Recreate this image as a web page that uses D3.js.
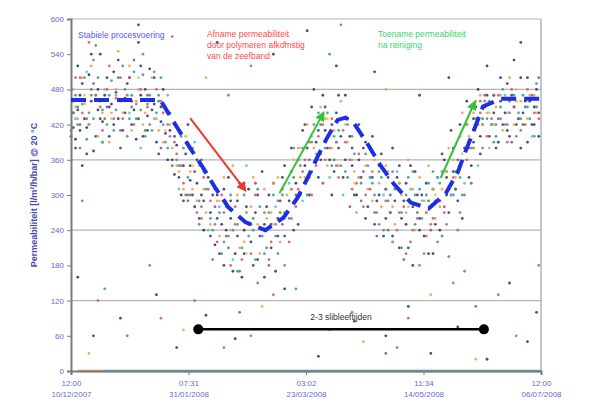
<!DOCTYPE html>
<html>
<head>
<meta charset="utf-8">
<script src="https://cdn.jsdelivr.net/npm/d3@7"></script>
<style>
  body { margin: 0; background: #fff; }
  svg { font-family: "Liberation Sans", Arial, sans-serif; }
</style>
</head>
<body>
<svg id="chart" width="590" height="407"></svg>
<script>
// x values are days since 10/12/2007 12:00, y values are permeability
const tickDays = [0, 52.25, 104.5, 156.75, 209];
const tickTimes = ["12:00", "07:31", "03:02", "11:34", "12:00"];
const tickDates = ["10/12/2007", "31/01/2008", "23/03/2008", "14/05/2008", "06/07/2008"];
const yTicks = [0, 60, 120, 180, 240, 300, 360, 420, 480, 540, 600];
const yGrid = [120, 240, 360, 480, 600];

const navy = [[1,440],[2,395],[3,520],[4,470],[5,350],[6,430],[7,415],[8,505],[9,460],[10,375],[12,445],[13,540],[14,425],[15,470],[17,400],[18,455],[19,510],[21,430],[22,380],[24,465],[25,490],[27,420],[28,445],[30,560],[31,470],[32,400],[34,435],[35,515],[37,455],[38,390],[40,425],[41,480],[43,360],[44,410],[46,335],[47,385],[49,300],[50,350],[52,420],[53,325],[55,280],[56,360],[58,300],[59,240],[61,330],[62,270],[64,215],[65,300],[67,250],[68,180],[70,330],[71,260],[73,200],[74,290],[76,160],[77,240],[79,310],[80,220],[82,270],[83,190],[85,340],[86,250],[88,300],[89,210],[91,170],[92,260],[94,330],[95,230],[97,290],[98,380],[100,320],[101,250],[103,410],[104,350],[106,300],[107,450],[109,390],[110,330],[112,470],[113,410],[115,360],[116,300],[118,440],[119,380],[121,330],[122,470],[124,400],[125,350],[127,300],[128,420],[130,380],[131,260],[133,330],[134,400],[136,290],[137,350],[139,230],[140,310],[142,270],[143,380],[145,330],[146,210],[148,290],[149,250],[151,350],[152,180],[154,300],[155,260],[157,230],[158,320],[160,280],[161,200],[163,330],[164,240],[166,360],[167,300],[169,410],[170,340],[172,290],[173,420],[175,380],[176,460],[178,350],[179,430],[181,480],[182,400],[184,450],[185,520],[187,420],[188,470],[190,390],[191,500],[193,440],[194,410],[196,470],[197,530],[199,430],[200,380],[202,460],[203,500],[205,420],[206,450],[208,400],
  [3,160],[10,60],[22,90],[38,130],[47,40],[60,95],[73,55],[95,140],[110,25],[126,85],[140,60],[150,110],[160,30],[172,75],[185,20],[195,150],[203,50],[207,100],[30,590],[65,560],[90,540],[105,580],[118,520],[135,510],[155,470],[168,500],[200,560]];

const navy2 = [[0,400],[1,415],[2,380],[3,445],[4,410],[5,490],[6,460],[7,370],[8,420],[9,540],[11,400],[12,480],[13,430],[14,390],[16,500],[17,450],[19,420],[20,475],[21,530],[23,410],[24,440],[26,500],[27,460],[29,395],[30,430],[31,520],[33,480],[34,410],[36,445],[37,500],[39,370],[40,450],[42,405],[43,440],[45,360],[46,400],[48,330],[50,290],[51,370],[53,350],[54,300],[56,320],[57,260],[59,290],[60,340],[62,230],[63,300],[65,260],[66,200],[68,310],[69,240],[71,290],[72,170],[74,230],[75,320],[77,200],[78,280],[80,250],[81,180],[83,300],[84,230],[86,160],[87,280],[89,250],[90,320],[92,230],[93,290],[95,350],[96,270],[98,310],[99,240],[101,360],[102,300],[104,420],[105,380],[107,340],[108,480],[110,410],[111,360],[113,450],[114,380],[116,420],[117,340],[119,470],[120,400],[122,360],[123,430],[125,380],[126,300],[128,360],[129,330],[131,390],[132,280],[134,330],[135,250],[137,300],[138,370],[140,260],[141,330],[143,230],[144,290],[146,350],[147,260],[149,320],[150,210],[152,280],[153,340],[155,240],[156,300],[158,270],[159,200],[161,310],[162,250],[164,290],[165,370],[167,330],[168,270],[170,380],[171,310],[173,350],[174,260],[176,420],[177,330],[179,390],[180,450],[182,370],[183,420],[185,470],[186,400],[188,440],[189,380],[191,460],[192,420],[194,490],[195,400],[197,450],[198,420],[200,500],[201,440],[203,390],[204,460],[206,420],[207,480],[208,440]];

const teal = [[0,410],[2,470],[4,380],[6,500],[8,440],[11,555],[13,460],[16,420],[18,495],[20,445],[23,520],[25,400],[27,470],[29,430],[32,505],[34,455],[36,410],[39,470],[42,390],[44,440],[47,360],[49,400],[52,330],[54,380],[57,290],[59,340],[62,260],[64,310],[67,200],[69,280],[72,240],[74,170],[77,300],[79,230],[82,190],[84,280],[87,240],[90,300],[92,200],[95,270],[98,340],[100,290],[103,380],[106,330],[108,420],[111,370],[114,440],[117,400],[120,350],[123,420],[126,370],[129,320],[132,350],[135,300],[138,330],[141,290],[144,310],[147,270],[150,330],[153,300],[156,260],[159,320],[162,290],[165,340],[168,310],[171,340],[174,300],[177,390],[180,430],[183,380],[186,460],[189,420],[192,480],[195,440],[198,400],[201,470],[204,430],[207,490],
  [5,290],[15,140],[35,180],[55,120],[80,60],[100,140],[125,100],[145,40],[175,170],[190,130],[70,470],[115,540]];

const teal2 = [[1,440],[3,420],[5,455],[7,395],[9,470],[10,430],[12,500],[14,445],[17,470],[19,410],[22,460],[24,480],[26,430],[28,510],[31,445],[33,400],[35,470],[38,440],[40,500],[41,420],[43,380],[46,400],[48,350],[50,380],[53,300],[55,340],[58,280],[60,310],[63,240],[66,270],[68,220],[71,300],[73,250],[76,210],[78,270],[81,240],[83,310],[86,200],[88,270],[91,230],[94,300],[97,260],[99,380],[102,350],[105,300],[107,390],[110,440],[113,380],[116,350],[119,410],[122,340],[125,400],[128,330],[131,370],[134,320],[137,340],[140,310],[143,340],[146,320],[149,300],[152,340],[155,310],[158,300],[161,340],[164,320],[167,340],[170,300],[173,330],[176,420],[179,380],[182,460],[185,430],[188,390],[191,450],[194,420],[197,470],[200,430],[203,450],[206,400]];

const orange = [[1,480],[3,430],[6,455],[9,520],[12,400],[15,480],[18,440],[21,545],[24,460],[27,410],[30,480],[33,440],[36,500],[39,410],[42,450],[45,380],[48,340],[51,400],[54,310],[57,350],[60,270],[63,320],[66,230],[69,290],[72,350],[75,210],[78,270],[81,330],[84,200],[87,260],[90,320],[93,220],[96,300],[99,360],[102,330],[105,420],[108,380],[111,450],[114,350],[117,410],[120,460],[123,390],[126,340],[129,400],[132,310],[135,360],[138,280],[141,340],[144,250],[147,300],[150,360],[153,240],[156,290],[159,350],[162,260],[165,310],[168,380],[171,330],[174,440],[177,400],[180,460],[183,420],[186,380],[189,450],[192,410],[195,500],[198,460],[201,420],[204,470],[207,440],
  [8,30],[50,70],[85,110],[130,50],[160,130],[180,20],[60,500],[95,560],[140,480]];

const orange2 = [[2,450],[5,500],[8,420],[11,470],[14,440],[17,390],[20,480],[23,440],[26,520],[29,460],[32,420],[35,460],[38,430],[41,390],[44,420],[47,350],[50,310],[53,340],[56,290],[59,310],[62,250],[65,290],[68,330],[71,240],[74,300],[77,220],[80,280],[83,250],[86,310],[89,270],[92,330],[95,260],[98,310],[101,380],[104,330],[107,400],[110,360],[113,430],[116,380],[119,350],[122,420],[125,360],[128,330],[131,350],[134,290],[137,320],[140,350],[143,280],[146,320],[149,270],[152,310],[155,330],[158,270],[161,310],[164,280],[167,340],[170,360],[173,400],[176,420],[179,440],[182,470],[185,440],[188,420],[191,470],[194,440],[197,420],[200,460],[203,430],[206,470]];

const pink = [[2,500],[5,440],[8,560],[11,470],[14,410],[17,520],[20,465],[23,430],[26,500],[29,455],[32,540],[35,420],[38,480],[41,440],[44,400],[47,370],[50,320],[53,380],[56,270],[59,330],[62,290],[65,220],[68,270],[71,180],[74,250],[77,320],[80,200],[83,150],[86,270],[89,220],[92,290],[95,180],[98,260],[101,310],[104,360],[107,300],[110,400],[113,360],[116,430],[119,330],[122,390],[125,310],[128,370],[131,300],[134,340],[137,250],[140,290],[143,220],[146,270],[149,200],[152,240],[155,180],[158,230],[161,260],[164,290],[167,250],[170,330],[173,270],[176,360],[179,410],[182,440],[185,400],[188,470],[191,430],[194,390],[197,450],[200,410],[203,480],[206,440],
  [12,120],[40,90],[68,40],[90,130],[115,70],[150,90],[170,150],[198,60],[208,180],[45,570],[80,520],[120,590]];

const pink2 = [[1,460],[4,500],[7,430],[10,530],[13,450],[16,480],[19,430],[22,500],[25,470],[28,420],[31,480],[34,450],[37,510],[40,460],[43,420],[46,390],[49,350],[52,300],[55,340],[58,260],[61,310],[64,250],[67,300],[70,230],[73,280],[76,190],[79,250],[82,300],[85,230],[88,190],[91,250],[94,310],[97,220],[100,280],[103,340],[106,390],[109,350],[112,420],[115,380],[118,350],[121,410],[124,360],[127,320],[130,280],[133,310],[136,270],[139,240],[142,270],[145,240],[148,280],[151,220],[154,260],[157,200],[160,250],[163,220],[166,270],[169,300],[172,240],[175,300],[178,380],[181,420],[184,460],[187,430],[190,470],[193,420],[196,480],[199,440],[202,420],[205,470],[208,430]];

const green = [[3,450],[9,480],[15,430],[21,500],[27,450],[33,410],[39,460],[45,350],[51,300],[57,250],[63,190],[69,230],[75,170],[81,260],[87,210],[93,270],[99,330],[105,380],[111,420],[117,360],[123,330],[129,290],[135,270],[141,240],[147,210],[153,250],[159,290],[165,230],[168,195],[171,310],[177,380],[183,430],[189,400],[195,460],[201,420],[207,450]];

const purple = [[4,420],[10,490],[16,450],[22,410],[28,530],[34,470],[40,380],[46,420],[52,290],[58,360],[64,280],[70,210],[76,260],[82,320],[88,180],[94,250],[100,300],[106,360],[112,320],[118,390],[124,280],[130,340],[136,230],[142,300],[148,190],[154,270],[160,240],[166,280],[172,360],[178,320],[184,470],[190,430],[196,390],[202,450],[208,500],
  [25,60],[75,100],[140,30],[180,110]];

const cyan = [[2,430],[7,510],[14,390],[20,470],[26,440],[31,380],[37,430],[43,470],[48,310],[55,390],[61,240],[66,280],[72,190],[78,350],[85,230],[91,280],[97,320],[103,290],[109,370],[115,330],[121,300],[127,270],[133,330],[139,300],[145,340],[151,310],[157,290],[163,330],[169,300],[175,320],[181,350],[187,420],[193,470],[199,440],[205,400]];

const yellow = [[6,470],[18,430],[30,500],[42,410],[54,350],[66,290],[78,200],[90,250],[102,380],[114,430],[126,320],[138,350],[150,280],[162,300],[174,370],[186,440],[198,480]];

// readings stuck at zero along the bottom
const zeroTeal = [[14,0],[209,0]];
const zeroOrange = [[3,0],[14,0]];

// hand-drawn trend
const trend = [[0,462],[39.7,462],[47.2,415],[53.0,380],[58.8,346],[64.2,312],[70.0,279],[77.5,254],[86.4,240],[94.4,261],[100.7,295],[105.2,329],[109.6,365],[114.1,399],[118.6,428],[122.1,432],[125.7,423],[131.9,387],[137.7,350],[143.5,319],[151.1,287],[159.1,277],[166.7,303],[172.0,339],[175.6,376],[179.1,410],[183.2,451],[191.2,464],[209,464]];

const redArrow = [[53.0,431],[77.5,308]];
const greenArrows = [[[92.7,303],[112.3,440]], [[164.4,329],[179.6,459]]];
const sludgeAge = [[56.6,71],[183.6,71]];

const series = [
  {data: navy, color: "#2c2c66"},
  {data: navy2, color: "#33336e"},
  {data: teal, color: "#2f9a8c"},
  {data: teal2, color: "#2f9a8c"},
  {data: orange, color: "#eaa045"},
  {data: orange2, color: "#eaa045"},
  {data: pink, color: "#d4506e"},
  {data: pink2, color: "#c8507a"},
  {data: green, color: "#3c8c3c"},
  {data: purple, color: "#7450aa"},
  {data: cyan, color: "#48c4cc"},
  {data: yellow, color: "#d6c850"}
];

const margin = {top: 19, right: 49, bottom: 36, left: 71};
const width = 590 - margin.left - margin.right;
const height = 407 - margin.top - margin.bottom;

const svg = d3.select("#chart");
svg.append("rect").attr("width", 590).attr("height", 407).attr("fill", "#fff");

const x = d3.scaleLinear().domain([0, 209]).range([0, width]);
const y = d3.scaleLinear().domain([0, 600]).range([height, 0]);

const g = svg.append("g").attr("transform", "translate(" + margin.left + "," + margin.top + ")");

// gridlines
g.selectAll(".grid").data(yGrid).join("line")
  .attr("x1", 0).attr("x2", width)
  .attr("y1", d => y(d)).attr("y2", d => y(d))
  .attr("stroke", "#b4b4b4").attr("stroke-width", 1.2);

// right frame
g.append("line").attr("x1", width).attr("x2", width).attr("y1", 0).attr("y2", height)
  .attr("stroke", "#a0a0a0").attr("stroke-width", 1.2);

// scatter points
series.forEach(s => {
  g.append("g").selectAll("circle").data(s.data).join("circle")
    .attr("cx", d => x(d[0])).attr("cy", d => y(d[1]))
    .attr("r", 1.4).attr("fill", s.color).attr("opacity", 0.85);
});

// zero readings
const zl = d3.line().x(d => x(d[0])).y(d => y(d[1]));
g.append("path").datum(zeroTeal).attr("d", zl).attr("stroke", "#3cb4a8").attr("stroke-width", 2.5).attr("fill", "none");
g.append("path").datum(zeroOrange).attr("d", zl).attr("stroke", "#eaa045").attr("stroke-width", 2.5).attr("fill", "none");

// axes
const yAxis = g.append("g").call(d3.axisLeft(y).tickValues(yTicks).tickSize(4).tickFormat(d3.format("d")));
yAxis.select(".domain").attr("stroke", "#7a7a7a").attr("stroke-width", 2);
yAxis.selectAll(".tick line").attr("stroke", "#7a7a7a");
yAxis.selectAll("text").attr("fill", "#6a6ad0").attr("font-size", 8).attr("x", -7);

const xAxis = g.append("g").attr("transform", "translate(0," + height + ")")
  .call(d3.axisBottom(x).tickValues(tickDays).tickSize(4).tickFormat(""));
xAxis.select(".domain").attr("stroke", "#7a7a7a").attr("stroke-width", 2);
xAxis.selectAll(".tick line").attr("stroke", "#7a7a7a");
xAxis.selectAll(".tick").each(function(d, i) {
  const t = d3.select(this).append("text").attr("fill", "#6a6ad0").attr("font-size", 8).attr("text-anchor", "middle");
  t.append("tspan").attr("x", 0).attr("y", 15).text(tickTimes[i]);
  t.append("tspan").attr("x", 0).attr("y", 26).text(tickDates[i]);
});

// y axis title
svg.append("text")
  .attr("transform", "translate(37,195) rotate(-90)")
  .attr("text-anchor", "middle").attr("font-size", 9).attr("font-weight", "bold")
  .attr("fill", "#4a4ab4")
  .text("Permeabiliteit [l/m²/h/bar] @ 20 °C");

// trend line
g.append("path").datum(trend)
  .attr("d", d3.line().x(d => x(d[0])).y(d => y(d[1])))
  .attr("fill", "none").attr("stroke", "#1c2ee6").attr("stroke-width", 4)
  .attr("stroke-dasharray", "15,8");

// arrows
const defs = svg.append("defs");
[["red", "#e83a30"], ["green", "#34c234"]].forEach(([id, c]) => {
  defs.append("marker").attr("id", "head-" + id)
    .attr("viewBox", "0 0 10 10").attr("refX", 8).attr("refY", 5)
    .attr("markerWidth", 5).attr("markerHeight", 5).attr("orient", "auto")
    .append("path").attr("d", "M0,0L10,5L0,10z").attr("fill", c);
});
g.append("line")
  .attr("x1", x(redArrow[0][0])).attr("y1", y(redArrow[0][1]))
  .attr("x2", x(redArrow[1][0])).attr("y2", y(redArrow[1][1]))
  .attr("stroke", "#e83a30").attr("stroke-width", 2).attr("marker-end", "url(#head-red)");
greenArrows.forEach(a => {
  g.append("line")
    .attr("x1", x(a[0][0])).attr("y1", y(a[0][1]))
    .attr("x2", x(a[1][0])).attr("y2", y(a[1][1]))
    .attr("stroke", "#34c234").attr("stroke-width", 2).attr("marker-end", "url(#head-green)");
});

// sludge age bar
g.append("path").datum(sludgeAge)
  .attr("d", zl).attr("stroke", "#000").attr("stroke-width", 2.5);
g.selectAll(".endDot").data(sludgeAge).join("circle")
  .attr("cx", d => x(d[0])).attr("cy", d => y(d[1])).attr("r", 5).attr("fill", "#000");
g.append("text")
  .attr("x", x((sludgeAge[0][0] + sludgeAge[1][0]) / 2)).attr("y", y(sludgeAge[0][1]) - 9)
  .attr("text-anchor", "middle").attr("font-size", 8.5).attr("fill", "#333")
  .text("2-3 slibleeftijden");

// annotations
svg.append("text").attr("x", 78).attr("y", 38).attr("font-size", 8.5).attr("fill", "#5656ff")
  .text("Stabiele procesvoering");

const redText = ["Afname permeabiliteit", "door polymeren afkomstig", "van de zeefband"];
svg.append("text").attr("font-size", 8.5).attr("fill", "#ff4a4a")
  .selectAll("tspan").data(redText).join("tspan")
  .attr("x", 207).attr("y", (d, i) => 37 + i * 11).text(d => d);

const greenText = ["Toename permeabiliteit", "na reiniging"];
svg.append("text").attr("font-size", 8.5).attr("fill", "#3ad46a")
  .selectAll("tspan").data(greenText).join("tspan")
  .attr("x", 378).attr("y", (d, i) => 37 + i * 11).text(d => d);
</script>
</body>
</html>
